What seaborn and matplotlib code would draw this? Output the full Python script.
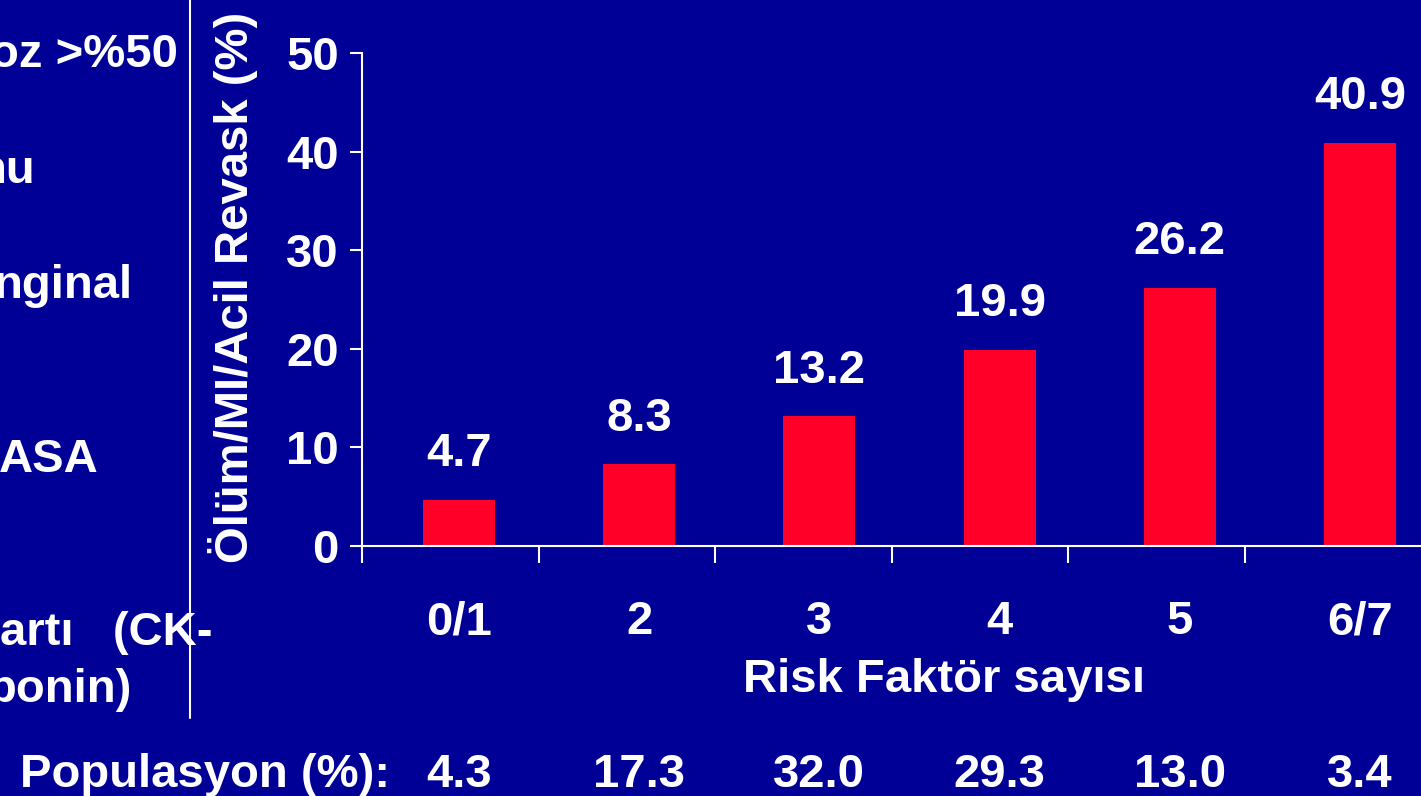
import numpy as np
import matplotlib.pyplot as plt
import matplotlib.transforms as mtransforms
from matplotlib.lines import Line2D
import seaborn as sns

# veriler
risk_groups = ['0/1', '2', '3', '4', '5', '6/7']
event_rate = [4.7, 8.3, 13.2, 19.9, 26.2, 40.9]
population = ['4.3', '17.3', '32.0', '29.3', '13.0', '3.4']
y_ticks = [0, 10, 20, 30, 40, 50]

# soldaki kesik metin parçaları (slayttan kalan)
side_texts = ['oz >%50', 'nu', 'nginal', 'ASA', 'artı   (CK-', 'ponin)']

BG = '#000096'
RED = '#FF0029'
WHITE = 'white'

sns.set_style('white', {'axes.facecolor': BG, 'figure.facecolor': BG,
                        'xtick.bottom': True, 'ytick.left': True})
plt.rcParams['font.family'] = ['Liberation Sans', 'DejaVu Sans']
plt.rcParams['font.weight'] = 'bold'

fig = plt.figure(figsize=(14.21, 7.96), dpi=100)
ax = fig.add_axes([362 / 1421, 250 / 796, 1 - 362 / 1421, 493 / 796])

sns.barplot(x=risk_groups, y=event_rate, color=RED, width=0.4,
            saturation=1, linewidth=0, edgecolor=RED, ax=ax)

ax.set_ylim(0, 50)
ax.set_xlim(-0.54, 5.34)
ax.set_yticks(y_ticks)

# kategori sınırlarındaki çentikler
ax.set_xticks(-0.54 + 0.98 * np.arange(len(risk_groups)), minor=True)
ax.tick_params(axis='x', which='major', bottom=True, length=0, pad=39,
               labelsize=34, labelcolor=WHITE)
ax.tick_params(axis='x', which='minor', bottom=True, length=12, width=1.5,
               color=WHITE, direction='out')
ax.tick_params(axis='y', which='major', left=True, length=8.6, width=1.5,
               color=WHITE, direction='out', pad=8,
               labelsize=34, labelcolor=WHITE)
for lbl in ax.get_xticklabels() + ax.get_yticklabels():
    lbl.set_fontweight('bold')

sns.despine(ax=ax)
for side in ['left', 'bottom']:
    ax.spines[side].set_color(WHITE)
    ax.spines[side].set_linewidth(1.5)

# bar değerleri
for i, v in enumerate(event_rate):
    ax.annotate(f'{v}', (i, v), xytext=(0, 24), textcoords='offset points',
                ha='center', va='baseline', fontsize=34,
                fontweight='bold', color=WHITE)

ax.set_xlabel('Risk Faktör sayısı', fontsize=34, fontweight='bold', color=WHITE)
ax.xaxis.set_label_coords(0.55, -0.227)
ax.set_ylabel('Ölüm/MI/Acil Revask (%)', fontsize=34, fontweight='bold',
              color=WHITE)
ax.yaxis.set_label_coords(-0.098, 0.525)

# popülasyon satırı
trans = mtransforms.blended_transform_factory(ax.transData, fig.transFigure)
fig.text(20 / 1421, 9 / 796, 'Populasyon (%):', fontsize=34,
         fontweight='bold', color=WHITE, ha='left', va='baseline')
for i, p in enumerate(population):
    ax.text(i, 9 / 796, p, transform=trans, fontsize=34, fontweight='bold',
            color=WHITE, ha='center', va='baseline', clip_on=False)

# sol taraftaki kesik metinler
side_right = [178, 35, 133, 99, 213, 132]
side_base = [67, 183, 298, 472, 645, 702]
for t, xr, yb in zip(side_texts, side_right, side_base):
    fig.text(xr / 1421, 1 - yb / 796, t, fontsize=34, fontweight='bold',
             color=WHITE, ha='right', va='baseline')

fig.add_artist(Line2D([190 / 1421, 190 / 1421], [1, 1 - 718 / 796],
                      transform=fig.transFigure, color=WHITE, lw=1.5))

fig.savefig('out.png', dpi=100, facecolor=BG)
